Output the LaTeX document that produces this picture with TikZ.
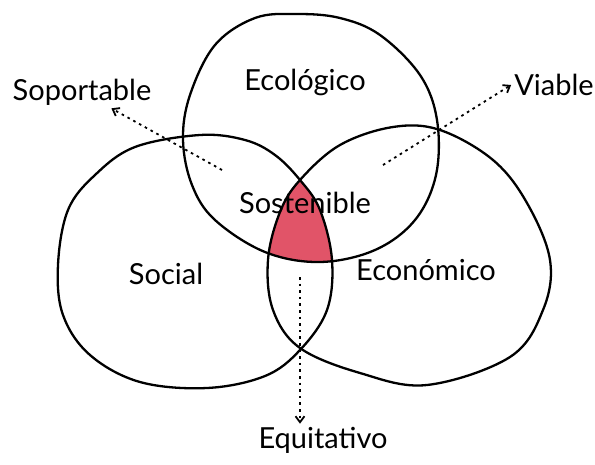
\documentclass[tikz,border=0pt]{standalone}
\usepackage{fontspec}
\setmainfont{Lato}
\usetikzlibrary{arrows.meta}
\definecolor{sostred}{RGB}{225,84,104}

\def\ecoblob{plot[smooth cycle,tension=0.6] coordinates {(297,14) (255,18) (215,45) (190,95) (183,140) (192,185) (215,220) (265,252) (320,262) (375,250) (415,220) (436,175) (437,120) (420,75) (380,35) (340,18)}}
\def\socblob{plot[smooth cycle,tension=0.6] coordinates {(58,265) (68,210) (95,175) (135,147) (200,135) (245,140) (275,155) (300,180) (320,210) (332,260) (327,310) (300,350) (265,376) (207,388) (140,382) (90,355) (63,315)}}
\def\econblob{plot[smooth cycle,tension=0.6] coordinates {(268,260) (280,212) (300,180) (340,145) (393,127) (440,130) (493,160) (527,203) (550,260) (543,310) (510,357) (427,385) (360,373) (300,348) (273,310)}}

\begin{document}
\begin{tikzpicture}[x=1pt,y=-1pt,>={Straight Barb[length=6pt,width=9pt]},
    blob/.style={draw,line width=2.3pt},
    word/.style={font=\fontsize{29}{32}\selectfont,inner sep=3pt},
    dotarrow/.style={->,line width=1.8pt,dash pattern=on 2.6pt off 4pt}]
    \useasboundingbox (0,0) rectangle (595,464);

    \begin{scope}
        \clip \ecoblob;
        \clip \socblob;
        \fill[sostred] \econblob;
    \end{scope}

    \draw[blob] \ecoblob;
    \draw[blob] \socblob;
    \draw[blob] \econblob;

    \node (ecologico) [word] at (305,82) {Ecológico};
    \node (social) [word] at (166,274) {Social};
    \node (economico) [word] at (426,270) {Económico};
    \node (sostenible) [word] at (305,203) {Sostenible};
    \node (soportable) [word] at (82,92) {Soportable};
    \node (viable) [word] at (554,85) {Viable};
    \node (equitativo) [word] at (323,440) {Equitativo};

    \coordinate (sopStart) at (222,170);
    \coordinate (viaStart) at (383,165);
    \coordinate (equStart) at (300,277);

    \draw[dotarrow] (sopStart) -- (soportable);
    \draw[dotarrow] (viaStart) -- (viable.west);
    \draw[dotarrow] (equStart) -- (equStart |- equitativo.north);
\end{tikzpicture}
\end{document}
